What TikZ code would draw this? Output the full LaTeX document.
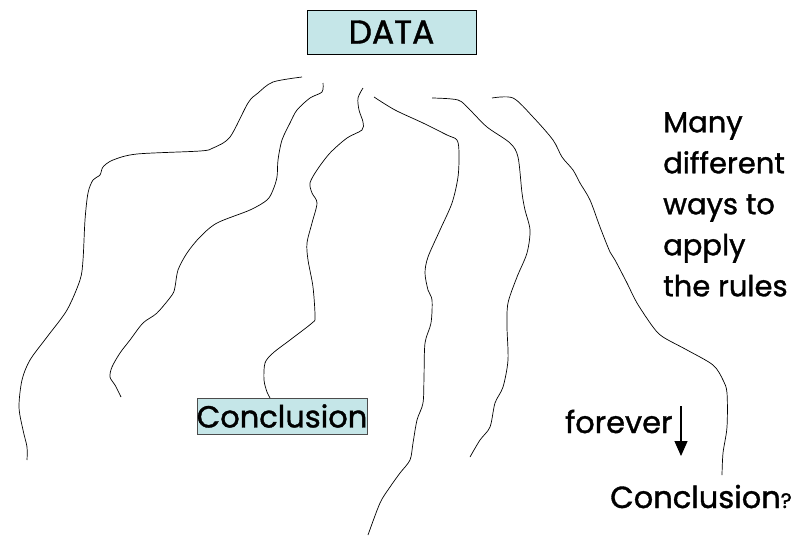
\documentclass[tikz,border=0pt]{standalone}
\usepackage{fontspec}
\setmainfont{Poppins}[FakeBold=1.2]
\usetikzlibrary{arrows.meta}
\definecolor{boxcyan}{RGB}{197,230,232}

\begin{document}
\begin{tikzpicture}[
    x=1pt, y=-1pt,
    route/.style={line width=0.7pt},
    box/.style={draw, fill=boxcyan, inner sep=0pt},
    label text/.style={inner sep=0pt, font=\fontsize{30.5}{36}\selectfont},
    >={Triangle[width=13pt, length=15pt]}
]
\useasboundingbox (0,0) rectangle (808,539);

% Caixas
\node[box, minimum width=169pt, minimum height=44pt, font=\fontsize{33}{40}\selectfont] (data) at (391.5,32) {DATA};
\node[box, draw=black!70, minimum width=168pt, minimum height=36pt, font=\fontsize{30.5}{36}\selectfont] (concl) at (282,416) {Conclusion};

% Textos
\node[label text, anchor=base west] (forever) at (565,433) {forever};
\node[label text, anchor=base west] (open) at (610,508) {Conclusion{\fontsize{21}{24}\selectfont ?}};
\node[inner sep=0pt, anchor=north west, align=left, font=\fontsize{29}{41}\selectfont] (many) at (663,112) {Many\\different\\ways to\\apply\\the rules};

\coordinate (arr top) at (681,406);
\coordinate (arr tip) at (681,456);

% --- Caminhos ---
\draw[route] plot[smooth, tension=0.5] coordinates {(302,77) (273,82) (258,93) (248,103) (230,137) (213,148) (200,151) (137,154) (113,160) (103,167) (100,175) (93,180) (88,193) (85,220) (83,260) (80,280) (67,310) (47,337) (30,360) (22,380) (19,407) (23,430) (27,447) (27,460)};
\draw[route] plot[smooth, tension=0.5] coordinates {(323,83) (322,92) (310,98) (297,110) (290,123) (282,140) (278,160) (277,177) (273,190) (267,200) (250,210) (217,223) (200,237) (187,253) (178,270) (175,287) (172,295) (157,313) (143,323) (130,340) (120,353) (112,367) (110,377) (115,385) (121,397)};
\draw[route] plot[smooth, tension=0.5] coordinates {(363,88) (358,98) (359,110) (363,122) (362,130) (347,138) (330,153) (317,170) (310,183) (312,193) (317,203) (312,223) (307,243) (308,260) (313,287) (315,317) (312,323) (290,340) (273,353) (265,363) (264,380) (267,392) ([xshift=-12pt]concl.north)};
\draw[route] plot[smooth, tension=0.5] coordinates {(374,97) (395,110) (423,123) (447,135) (457,140) (459,153) (458,177) (452,203) (440,230) (428,257) (425,273) (428,290) (432,300) (431,323) (425,343) (424,377) (423,403) (417,420) (413,443) (410,460) (400,473) (390,487) (380,503) (368,535)};
\draw[route] plot[smooth, tension=0.5] coordinates {(432,98) (458,100) (470,110) (487,127) (510,143) (518,157) (522,193) (525,210) (530,230) (527,253) (517,277) (508,303) (507,327) (508,360) (503,387) (495,403) (490,427) (480,440) (470,457)};
\draw[route] plot[smooth, tension=0.5] coordinates {(492,98) (513,98) (533,117) (553,140) (562,157) (573,170) (580,183) (590,200) (600,227) (610,252) (615,260) (627,283) (637,303) (653,327) (663,337) (687,350) (713,365) (723,380) (727,393) (727,427) (723,453) (722,475)};

% --- Seta ---
\draw[line width=1.2pt, ->] (arr top) -- (arr tip);

\end{tikzpicture}
\end{document}
